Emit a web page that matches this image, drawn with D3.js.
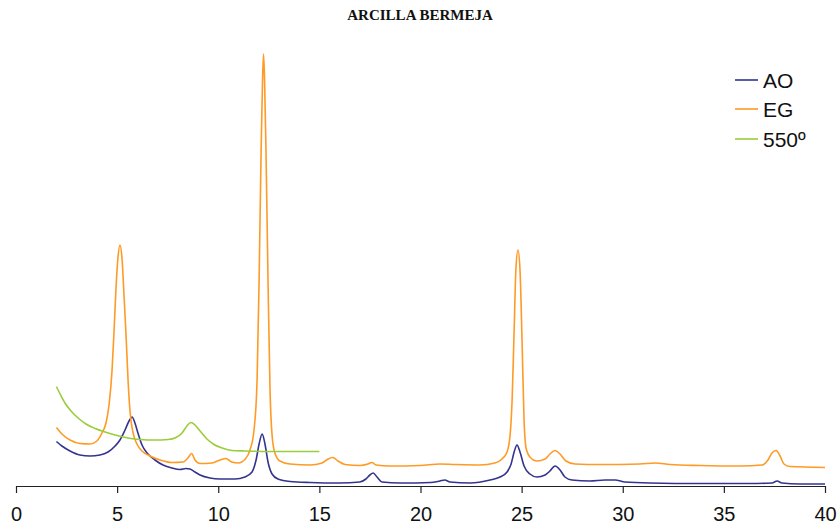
<!DOCTYPE html>
<html><head><meta charset="utf-8">
<script src="https://cdn.jsdelivr.net/npm/d3@7"></script>
<style>html,body{margin:0;padding:0;background:#fff;}</style>
</head><body>
<svg id="chart" width="839" height="530"></svg>
<script>
const title = "ARCILLA BERMEJA";
const seriesNames = ["AO", "EG", "550º"];
const seriesColors = ["#34348f", "#ff9a24", "#9acd3a"];
const xTicks = [0, 5, 10, 15, 20, 25, 30, 35, 40];

const aoX = [2.0,2.27,2.67,3.16,3.66,4.15,4.55,4.9,5.14,5.39,5.59,5.74,5.88,6.03,6.23,6.48,6.87,7.27,7.71,8.11,8.4,8.6,8.85,9.1,9.59,10.09,10.83,11.32,11.67,11.87,12.02,12.17,12.31,12.46,12.66,12.95,13.55,14.54,16.0,17.0,17.3,17.5,17.66,17.85,18.1,19.0,20.5,20.96,21.2,21.46,22.45,23.44,23.93,24.28,24.48,24.63,24.77,24.92,25.12,25.41,25.76,26.16,26.4,26.65,26.9,27.14,27.49,28.38,29.12,29.62,30.11,31.35,33.82,36.3,37.38,37.63,37.87,38.76,40.0];
const aoY = [44.5,40,35,31,30,31,34,40,46,56,65,69,63,53,41,33,26,21,18,16.5,17.5,17,14,11,8,7,7,9,14,26,42,52,42,24,12,7,4.5,3.5,3,4,7,11,13,9,4,3,3.5,5,6,4,3,6,9,14,22,34,41,34,20,12,9,11,15,20,16,9,6,5,6,6,4,3,2.5,2.5,3,5,3,2,2];

const egX = [2.0,2.27,2.67,3.16,3.66,4.0,4.25,4.45,4.6,4.75,4.85,4.94,5.04,5.14,5.24,5.34,5.44,5.54,5.64,5.79,5.98,6.23,6.63,7.12,7.71,8.26,8.5,8.68,8.85,9.1,9.69,10.09,10.38,10.67,10.98,11.34,11.57,11.77,11.92,12.02,12.12,12.19,12.24,12.29,12.36,12.46,12.56,12.66,12.8,13.05,13.55,14.54,15.13,15.43,15.67,15.92,16.27,17.0,17.4,17.6,17.8,18.49,19.98,20.96,21.7,22.94,23.68,24.03,24.28,24.43,24.53,24.63,24.72,24.82,24.92,25.02,25.12,25.22,25.41,25.76,26.16,26.4,26.65,26.9,27.19,27.64,28.88,30.85,31.6,32.34,33.82,35.8,36.89,37.18,37.38,37.58,37.78,37.97,38.27,40.0];
const egY = [58.5,52,46,42.5,42,45,53,63,81,116,156,196,228,241,228,191,151,106,74,53,42,35,30,26,23.5,24,28,32.5,26,22.5,23,26,27.5,24,23,27,36,56,106,206,336,406,432,406,336,206,96,51,33,25,22,21,23,27,28.5,25,21.5,20.5,22,23.5,21,20,20.5,22,21.5,21,23,27,34,51,86,156,218,236,216,146,66,38,29,25,27,32,35.5,32,25,22,21.5,22,23,21.5,20.5,20,21,26,33,35.5,30,22,19.5,18.5];

const g550X = [2.0,2.18,2.42,2.72,3.07,3.46,3.91,4.4,4.9,5.54,6.13,6.87,7.52,7.91,8.21,8.45,8.65,8.85,9.1,9.44,9.79,10.19,10.68,11.32,12.56,14.04,15.0];
const g550Y = [99.3,92,83,75,68,62,57.5,54,51,48,46.5,46,46.5,48.5,53,60,63.5,61,55,47,41.5,38,35.5,35,34.5,34.5,34.5];

const svg = d3.select("#chart");
const x = d3.scaleLinear().domain([0, 40]).range([16, 825]);
const y = d3.scaleLinear().domain([0, 450]).range([486, 36]);

svg.append("text").attr("x", 420).attr("y", 20).attr("text-anchor", "middle")
  .attr("font-family", "Liberation Serif, Times New Roman, serif").attr("font-weight", "bold")
  .attr("font-size", 15).attr("fill", "#111").text(title);

const axis = d3.axisBottom(x).tickValues(xTicks).tickSize(7).tickPadding(14).tickSizeOuter(0);
const ax = svg.append("g").attr("transform", "translate(0,486)").call(axis);
ax.select(".domain").attr("stroke", "#222").attr("stroke-width", 1.2);
ax.selectAll(".tick line").attr("stroke", "#222").attr("stroke-width", 1.2);
ax.selectAll(".tick text").attr("font-family", "Liberation Sans, Arial, sans-serif")
  .attr("font-size", 20).attr("fill", "#111");

const line = d3.line().x(d => x(d[0])).y(d => y(d[1])).curve(d3.curveMonotoneX);
const series = [
  [aoX, aoY], [egX, egY], [g550X, g550Y]
];
[0, 1, 2].forEach(i => {
  const pts = series[i][0].map((v, k) => [v, series[i][1][k]]);
  svg.append("path").datum(pts).attr("d", line).attr("fill", "none")
    .attr("stroke", seriesColors[i]).attr("stroke-width", 1.6).attr("stroke-linejoin", "round");
});

const legY = [80, 109, 139];
seriesNames.forEach((n, i) => {
  svg.append("line").attr("x1", 735).attr("x2", 758).attr("y1", legY[i]).attr("y2", legY[i])
    .attr("stroke", seriesColors[i]).attr("stroke-width", 1.6);
  svg.append("text").attr("x", 763).attr("y", legY[i]).attr("dy", "0.36em")
    .attr("font-family", "Liberation Sans, Arial, sans-serif").attr("font-size", 21)
    .attr("fill", "#111").text(n);
});
</script>
</body></html>
